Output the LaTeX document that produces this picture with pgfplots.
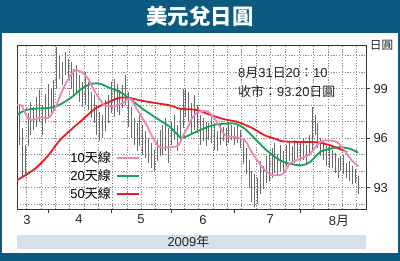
\documentclass[border=0pt]{standalone}
\usepackage{pgfplots}
\pgfplotsset{compat=1.18}
\usepackage{pgfplotstable}
\usepackage{fontspec}
\setmainfont{Liberation Sans}
\newfontfamily\cjk{Noto Sans CJK TC}
\definecolor{framec}{RGB}{12,90,128}
\definecolor{bandc}{RGB}{213,224,232}
\definecolor{maten}{RGB}{240,132,186}
\definecolor{matwenty}{RGB}{18,163,88}
\definecolor{mafifty}{RGB}{232,28,36}
\definecolor{barc}{RGB}{105,105,105}

% trading-day index (0 = 1 Apr 2009), low, high
\pgfplotstableread{
d l h
-10 95.6 98.0
-9 93.6 96.6
-8 93.8 95.6
-7 95.5 97.5
-6 96.2 98.2
-5 96.5 97.9
-4 96.7 98.5
-3 97.0 98.9
-2 96.2 98.0
-1 96.9 98.7
0 97.2 99.3
1 97.5 99.0
2 97.7 99.5
3 99.0 101.5
4 99.6 101.0
5 99.2 100.6
6 99.8 101.2
7 99.6 100.8
8 99.0 100.6
9 98.6 100.2
10 98.8 100.4
11 98.2 99.8
12 97.9 99.4
13 98.0 100.0
14 97.7 99.4
15 97.2 98.8
16 96.9 98.6
17 96.2 98.0
18 95.8 97.6
19 96.0 97.4
20 96.4 98.3
21 96.9 98.6
22 97.5 99.4
23 97.3 99.6
24 97.6 99.3
25 97.4 98.9
26 97.8 99.2
27 98.0 99.8
28 96.7 98.8
29 96.0 97.9
30 95.6 97.2
31 95.2 96.9
32 95.5 97.4
33 95.0 96.8
34 94.8 96.4
35 94.5 96.0
36 94.2 95.7
37 94.0 95.3
38 94.6 95.9
39 94.9 96.5
40 95.0 96.8
41 95.2 97.2
42 94.5 96.6
43 95.6 97.0
44 95.9 97.4
45 95.2 96.8
46 95.8 97.8
47 96.6 99.0
48 97.3 99.0
49 97.0 98.8
50 96.2 98.1
51 96.5 98.6
52 96.3 98.0
53 95.6 97.4
54 95.8 97.2
55 95.5 97.0
56 95.9 96.9
57 95.7 97.3
58 95.3 96.9
59 95.2 96.4
60 95.6 96.9
61 95.8 96.7
62 95.5 96.6
63 95.7 97.0
64 95.9 96.8
65 95.6 96.7
66 95.7 96.8
67 95.4 96.5
68 94.4 95.9
69 93.8 95.4
70 93.0 94.7
71 92.1 94.0
72 91.8 93.8
73 92.0 93.6
74 92.6 94.6
75 92.9 94.3
76 93.3 94.9
77 93.4 95.1
78 93.6 95.4
79 93.9 95.7
80 93.7 95.0
81 94.0 95.6
82 93.9 95.2
83 94.3 95.6
84 94.6 95.8
85 94.4 95.5
86 94.5 95.9
87 94.8 95.7
88 94.6 95.8
89 94.7 96.0
90 94.5 95.6
91 94.9 96.2
92 95.2 97.9
93 96.2 97.4
94 95.4 96.9
95 94.9 96.0
96 94.7 95.9
97 94.3 95.5
98 94.2 95.5
99 94.2 95.3
100 93.9 95.1
101 93.6 94.8
102 94.0 94.9
103 93.8 95.0
104 93.6 94.5
105 93.4 94.6
106 93.2 94.3
107 93.3 94.1
108 92.6 93.7
}\bars

\pgfplotstableread{
d v
-10.8 93.44
-4.5 94.14
0.1 94.95
3.6 95.76
7.1 96.36
11.7 97.07
16.4 97.78
19.9 98.08
25.1 98.45
28.6 98.42
32.1 98.28
35.5 98.18
39 98.08
42.5 97.98
46 97.78
49.5 97.74
52.3 97.68
57.1 97.37
61.7 97.13
66.2 96.97
71.1 96.61
75.6 96.16
79.1 95.96
81.9 95.80
88.9 95.76
93.7 95.74
98.3 95.56
104.2 95.15
}\mafiftytab

\pgfplotstableread{
d v
-10.8 97.40
-8 97.68
-4.5 97.78
0.1 97.82
3.6 97.98
8.3 98.48
11.7 98.99
15.2 99.29
18.1 99.29
21.6 99.03
25.1 98.79
28.6 98.38
32.1 97.88
35.5 97.47
39 97.07
42.5 96.67
46 96.06
47.7 96.06
50.1 96.26
53.6 96.53
58.2 96.81
61.7 96.87
65.2 96.87
68.6 96.56
72.1 95.96
75.6 95.35
79.1 94.85
80.8 94.65
84.3 94.44
88.4 94.35
91.3 94.55
94.8 95.15
98.3 95.35
101.7 95.45
105.2 95.35
108.1 95.11
}\matwentytab

\pgfplotstableread{
d v
-10.8 98.00
-9.2 97.98
-6.9 97.17
-4.5 97.13
-2.2 97.27
0.1 97.21
2.4 97.78
4.8 98.79
7.1 99.59
9.4 100.10
11.7 100.00
14 99.59
16.4 98.79
18.7 98.18
19.9 97.98
22.8 97.92
26.2 98.14
28.6 98.38
30.9 97.78
34.4 96.77
36.7 95.96
39 95.45
42.5 95.45
45.4 95.56
47.1 96.16
48.8 96.70
50.2 97.20
52.4 97.58
55.9 97.58
59.3 96.87
61.7 96.16
65.2 96.06
68.6 95.86
71 95.15
73.3 94.55
75.6 94.04
77.9 93.78
79.7 93.74
82 93.84
84.3 94.45
87.8 94.75
91.3 95.05
94.8 95.76
97.7 95.86
100.6 95.76
102.9 95.35
105.8 94.65
108.1 94.30
}\matentab

\begin{document}
\begin{tikzpicture}[x=1bp,y=1bp]
\useasboundingbox (0,0) rectangle (400,261);
\fill[framec] (0,0) rectangle (400,261);
\fill[white] (2.5,8.5) rectangle (397.5,228);
\fill[bandc] (17,12) rectangle (366,26);
\node[text=white, font=\cjk\bfseries\fontsize{21.5}{22}\selectfont] at (200,244.3) {美元兌日圓};
\node[font=\fontsize{13}{14}\selectfont, text=black!85] at (188.4,19) {2009{\cjk 年}};
\begin{axis}[
  at={(17bp,51.5bp)}, anchor=south west, scale only axis,
  width=349bp, height=164.5bp,
  xmin=-10.8, xmax=110.8, ymin=91.67, ymax=101.64,
  axis line style={draw=black!80, line width=0.7bp},
  /pgf/number format/assume math mode=true,
  tick align=outside, xtick pos=bottom, ytick pos=right,
  major tick length=4bp,
  tick style={draw=black!80, line width=0.7bp},
  xtick={0,22,43,65,88}, xticklabels={},
  extra x ticks={-7.3,10.8,32.4,54,77.4,101.4},
  extra x tick labels={3,4,5,6,7,8{\cjk 月}},
  extra x tick style={major tick length=0pt, xticklabel style={yshift=-2bp}},
  ytick={93,96,99}, yticklabel pos=right,
  minor xtick={-7.5,-2.5,...,107.5}, minor ytick={92,93,...,101},
  xminorgrids, yminorgrids, minor tick length=0pt,
  minor grid style={draw=black!45, dash pattern=on 1.2bp off 1.6bp, line width=0.5bp},
  tick label style={font=\fontsize{13}{14}\selectfont, text=black!85},
  legend style={draw=none, fill=none, at={(0.352,0.365)}, anchor=north east,
    font=\fontsize{13}{14}\selectfont, row sep=1.5bp, column sep=3bp,
    inner sep=0pt},
  legend cell align=right, legend plot pos=right, reverse legend,
  legend image code/.code={\draw[#1, line width=1.9bp] (0bp,0bp) -- (22bp,0bp);},
]
\addplot[draw=none, mark=none, forget plot,
  error bars/.cd, y dir=plus, y explicit, error mark=none,
  error bar style={draw=barc, solid, line width=0.7bp}]
  table[x=d, y=l, y error plus expr=\thisrow{h}-\thisrow{l}] {\bars};
\addplot[draw=mafifty, line width=1.8bp, smooth, mark=none]
  table[x=d, y=v] {\mafiftytab};
\addlegendentry{50{\cjk 天線}}
\addplot[draw=matwenty, line width=1.8bp, smooth, mark=none]
  table[x=d, y=v] {\matwentytab};
\addlegendentry{20{\cjk 天線}}
\addplot[draw=maten, line width=1.8bp, smooth, mark=none]
  table[x=d, y=v] {\matentab};
\addlegendentry{10{\cjk 天線}}
\end{axis}
\node[anchor=west, inner sep=0pt, font=\fontsize{13}{14}\selectfont, text=black!85] at (238,188) {8{\cjk 月}31{\cjk 日}20{\cjk ：}10};
\node[anchor=west, inner sep=0pt, font=\fontsize{13}{14}\selectfont, text=black!85] at (238,169) {{\cjk 收市：}93.20{\cjk 日圓}};
\node[font=\cjk\fontsize{11.7}{12}\selectfont, text=black!85] at (381.5,215.5) {日圓};
\end{tikzpicture}
\end{document}
